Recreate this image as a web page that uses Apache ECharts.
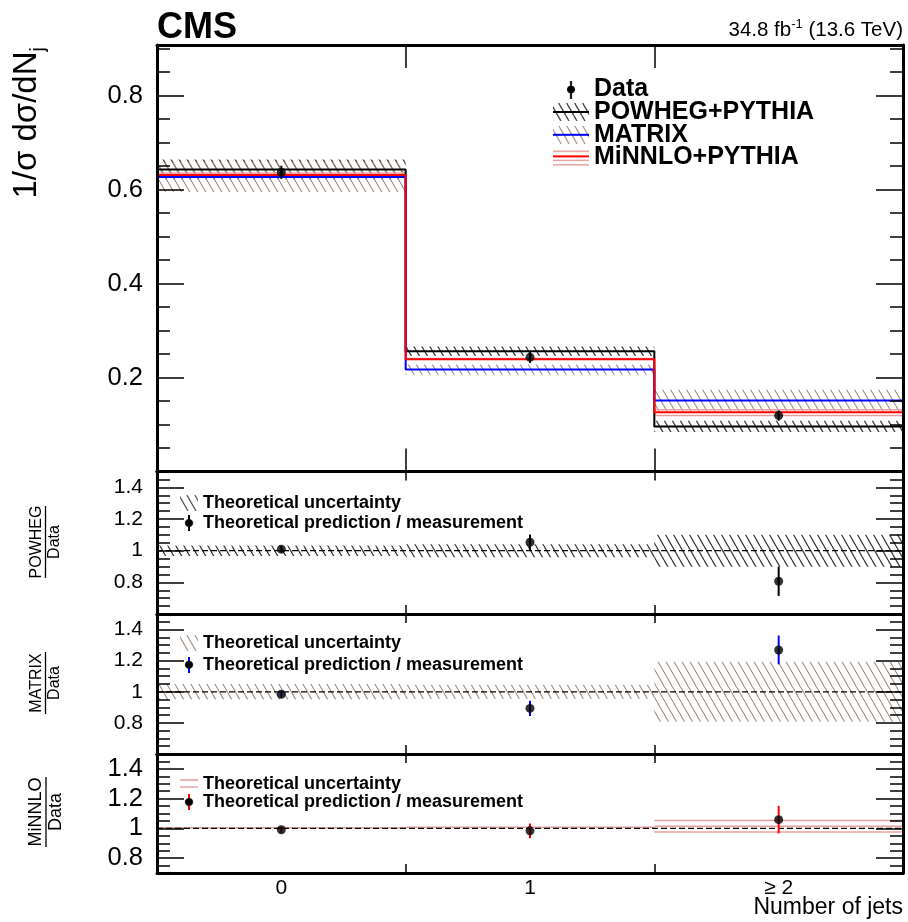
<!DOCTYPE html>
<html><head><meta charset="utf-8">
<script src="https://cdn.jsdelivr.net/npm/echarts@6/dist/echarts.min.js"></script>
<style>html,body{margin:0;padding:0;background:#fff}#c{width:908px;height:922px}</style>
</head><body><div id="c"></div>
<script>
// ---------------- data ----------------
const categories = ['0', '1', '≥ 2'];
const binEdges = [0, 1, 2, 3];
const dataVals = [0.637, 0.243, 0.119];
const dataErr = [0.014, 0.012, 0.011];
const powhegVals = [0.643, 0.256, 0.096];
const powhegUnc = [0.021, 0.010, 0.012];
const matrixVals = [0.627, 0.217, 0.151];
const matrixUnc = [0.032, 0.011, 0.023];
const minnloVals = [0.631, 0.239, 0.126];
const minnloUnc = [0.006, 0.003, 0.0070];
const yRanges = [[0, 0.908], [0.6, 1.5], [0.6, 1.5], [0.7, 1.5]];

// ---------------- helpers ----------------
const FF = "'Liberation Sans', Arial, Helvetica, sans-serif";
const DARK = '#3a3a3a', LIGHT = '#9a8b7c', PINK = '#e6a0a0';
const centers = categories.map((_, i) => (binEdges[i] + binEdges[i + 1]) / 2);

function hatchTile(color, lw) {
  const w = 8, h = 14;
  const c = document.createElement('canvas'); c.width = w; c.height = h;
  const g = c.getContext('2d'); g.strokeStyle = color; g.lineWidth = lw;
  g.beginPath();
  for (const dx of [-w, 0, w]) { g.moveTo(dx, 0); g.lineTo(dx + w, h); }
  g.stroke();
  return { type: 'pattern', image: c, repeat: 'repeat' };
}
const darkPat = hatchTile(DARK, 1.3);
const lightPat = hatchTile(LIGHT, 1.1);

function drawHatch(g, w, h, color, lw) {
  g.save(); g.beginPath(); g.rect(0, 0, w, h); g.clip();
  g.strokeStyle = color; g.lineWidth = lw; g.beginPath();
  const k = 8 / 14;
  for (let x = -h * k; x < w; x += 8) { g.moveTo(x, 0); g.lineTo(x + h * k, h); }
  g.stroke(); g.restore();
}
function makeIcon(w, h, fn) {
  const s = 3, c = document.createElement('canvas');
  c.width = w * s; c.height = h * s;
  const g = c.getContext('2d'); g.scale(s, s); fn(g, w, h);
  return 'image://' + c.toDataURL();
}
function hline(g, w, y, color, lw) { g.strokeStyle = color; g.lineWidth = lw; g.beginPath(); g.moveTo(0, y); g.lineTo(w, y); g.stroke(); }
function dotBar(color) {
  return (g, w, h) => {
    g.strokeStyle = color; g.lineWidth = 2; g.beginPath(); g.moveTo(w / 2, 0); g.lineTo(w / 2, h); g.stroke();
    g.fillStyle = '#000'; g.beginPath(); g.arc(w / 2, h / 2, 4, 0, Math.PI * 2); g.fill();
  };
}

function stepPoints(vals) {
  const p = [[binEdges[0], 0]];
  vals.forEach((v, i) => { p.push([binEdges[i], v]); p.push([binEdges[i + 1], v]); });
  p.push([binEdges[binEdges.length - 1], 0]);
  return p;
}
function bandRect(pattern) {
  return function (params, api) {
    const a = api.coord([api.value(0), api.value(3)]);
    const b = api.coord([api.value(1), api.value(2)]);
    return { type: 'rect', shape: { x: a[0], y: a[1], width: b[0] - a[0], height: b[1] - a[1] }, style: { fill: pattern, stroke: null } };
  };
}
function bandLines(color, step) {
  return function (params, api) {
    const a = api.coord([api.value(0), api.value(3)]);
    const b = api.coord([api.value(1), api.value(2)]);
    const children = [];
    for (let y = a[1] + 0.75; y <= b[1] || children.length === 0; y += step) {
      children.push({ type: 'line', shape: { x1: a[0], y1: y, x2: b[0], y2: y }, style: { stroke: color, lineWidth: 1.5 } });
    }
    return { type: 'group', children };
  };
}
function errBar(color) {
  return function (params, api) {
    const a = api.coord([api.value(0), api.value(1)]);
    const b = api.coord([api.value(0), api.value(2)]);
    return { type: 'line', shape: { x1: a[0], y1: a[1], x2: b[0], y2: b[1] }, style: { stroke: color, lineWidth: 2 } };
  };
}
function bandData(center, unc) {
  return center.map((c, i) => [binEdges[i], binEdges[i + 1], c - unc[i], c + unc[i]]);
}

// ---------------- layout ----------------
const grids = [
  { left: 157, right: 5, top: 45, height: 426.5 },
  { left: 157, right: 5, top: 471.5, height: 142.5 },
  { left: 157, right: 5, top: 614, height: 140 },
  { left: 157, right: 5, top: 754, height: 119 }
].map(g => Object.assign({ show: false, outerBoundsMode: 'none', containLabel: false }, g));
const labelSizes = [25.5, 21, 21, 25.5];

const xAxes = [], yAxes = [];
grids.forEach((g, i) => {
  const tl = i === 0 ? 23 : 9;
  ['bottom', 'top'].forEach(pos => xAxes.push({
    type: 'value', gridIndex: i, position: pos, min: 0, max: 3, interval: 1, z: 10,
    axisLine: { show: true, onZero: false, lineStyle: { color: '#000', width: 3 } },
    axisTick: { show: true, inside: true, length: tl, lineStyle: { color: '#000', width: 1.5 } },
    axisLabel: { show: false }, splitLine: { show: false }
  }));
  ['left', 'right'].forEach(pos => yAxes.push({
    type: 'value', gridIndex: i, position: pos, min: yRanges[i][0], max: yRanges[i][1], splitNumber: 5, z: 10,
    axisLine: { show: true, onZero: false, lineStyle: { color: '#000', width: 3 } },
    axisTick: { show: true, inside: true, length: 27, lineStyle: { color: '#000', width: 1.5 } },
    minorTick: { show: true, splitNumber: 4, length: 13, lineStyle: { color: '#000', width: 1.5 } },
    axisLabel: { show: pos === 'left', showMinLabel: false, showMaxLabel: false, fontSize: labelSizes[i], margin: 14, color: '#000', fontFamily: FF },
    splitLine: { show: false }, minorSplitLine: { show: false }
  }));
});
xAxes.push({
  type: 'category', gridIndex: 3, position: 'bottom', data: categories, boundaryGap: true,
  axisLine: { show: false }, axisTick: { show: false }, splitLine: { show: false },
  axisLabel: { fontSize: 21, margin: 5, color: '#000', fontFamily: FF }
});

// ---------------- series ----------------
const series = [];
// main panel
series.push({ type: 'custom', name: 'POWHEG+PYTHIA', xAxisIndex: 0, yAxisIndex: 0, z: 1, silent: true, renderItem: bandRect(darkPat), data: bandData(powhegVals, powhegUnc) });
series.push({ type: 'custom', name: 'MATRIX', xAxisIndex: 0, yAxisIndex: 0, z: 1, silent: true, renderItem: bandRect(lightPat), data: bandData(matrixVals, matrixUnc) });
series.push({ type: 'custom', name: 'MiNNLO+PYTHIA', xAxisIndex: 0, yAxisIndex: 0, z: 1, silent: true, renderItem: bandLines(PINK, 5.8), data: bandData(minnloVals, minnloUnc) });
[[powhegVals, '#000', 'POWHEG+PYTHIA'], [matrixVals, '#0000ff', 'MATRIX'], [minnloVals, '#ff0000', 'MiNNLO+PYTHIA']].forEach(([v, col, nm]) => {
  series.push({ type: 'line', name: nm, xAxisIndex: 0, yAxisIndex: 0, z: 2, data: stepPoints(v), showSymbol: false, symbol: 'none', color: col, lineStyle: { color: col, width: 2 }, silent: true });
});
series.push({ type: 'custom', name: 'Data', xAxisIndex: 0, yAxisIndex: 0, z: 3, silent: true, renderItem: errBar('#000'), data: centers.map((c, i) => [c, dataVals[i] - dataErr[i], dataVals[i] + dataErr[i]]) });
series.push({ type: 'scatter', name: 'Data', xAxisIndex: 0, yAxisIndex: 0, z: 4, symbol: 'circle', symbolSize: 9, itemStyle: { color: '#000' }, data: centers.map((c, i) => [c, dataVals[i]]), silent: true });

// ratio panels
const ratioPanels = [
  { num: 'POWHEG', pred: powhegVals, unc: powhegUnc, pattern: darkPat, hatch: DARK, errColor: '#000' },
  { num: 'MATRIX', pred: matrixVals, unc: matrixUnc, pattern: lightPat, hatch: LIGHT, errColor: '#0000ff' },
  { num: 'MiNNLO', pred: minnloVals, unc: minnloUnc, pattern: null, hatch: PINK, errColor: '#ff0000' }
];
ratioPanels.forEach((p, k) => {
  const ai = 2 * (k + 1);
  const ratio = p.pred.map((v, i) => v / dataVals[i]);
  const rerr = dataErr.map((e, i) => e / dataVals[i]);
  const runc = p.unc.map((u, i) => u / dataVals[i]);
  const ones = binEdges.slice(1).map(() => 1);
  series.push({ type: 'custom', name: 'Theoretical uncertainty', xAxisIndex: ai, yAxisIndex: ai, z: 1, silent: true,
    renderItem: p.pattern ? bandRect(p.pattern) : bandLines(PINK, 5.8), data: bandData(ones, runc) });
  series.push({ type: 'line', name: 'unity', xAxisIndex: ai, yAxisIndex: ai, z: 2, silent: true, showSymbol: false, symbol: 'none',
    data: [[binEdges[0], 1], [binEdges[binEdges.length - 1], 1]], lineStyle: { color: '#000', width: 1.2, type: [6, 3] } });
  series.push({ type: 'custom', name: 'Theoretical prediction / measurement', xAxisIndex: ai, yAxisIndex: ai, z: 3, silent: true,
    renderItem: errBar(p.errColor), data: centers.map((c, i) => [c, ratio[i] - rerr[i], ratio[i] + rerr[i]]) });
  series.push({ type: 'scatter', name: 'Theoretical prediction / measurement', xAxisIndex: ai, yAxisIndex: ai, z: 4, silent: true,
    symbol: 'circle', symbolSize: 9, itemStyle: { color: '#000' }, data: centers.map((c, i) => [c, ratio[i]]) });
});

// ---------------- legends ----------------
const legends = [{
  orient: 'vertical', left: 553, top: 77, itemWidth: 36, itemHeight: 18, itemGap: -2.4, padding: 0, selectedMode: false,
  textStyle: { fontSize: 25, fontWeight: 'bold', color: '#000', fontFamily: FF },
  data: [
    { name: 'Data', icon: makeIcon(36, 18, dotBar('#000')) },
    { name: 'POWHEG+PYTHIA', icon: makeIcon(36, 18, (g, w, h) => { drawHatch(g, w, h, DARK, 1.3); hline(g, w, h / 2, '#000', 2); }) },
    { name: 'MATRIX', icon: makeIcon(36, 18, (g, w, h) => { drawHatch(g, w, h, LIGHT, 1.1); hline(g, w, h / 2, '#0000ff', 2); }) },
    { name: 'MiNNLO+PYTHIA', icon: makeIcon(36, 18, (g, w, h) => { hline(g, w, 3, PINK, 1.5); hline(g, w, 12, PINK, 1.5); hline(g, w, 16.5, PINK, 1.5); hline(g, w, 8, '#ff0000', 2); }) }
  ]
}];
const rlTops = [494, 634, 775];
const rlGaps = [2, 3.7, 0];
ratioPanels.forEach((p, k) => {
  legends.push({
    orient: 'vertical', left: 180, top: rlTops[k], itemWidth: 18, itemHeight: 16, itemGap: rlGaps[k], padding: 0, selectedMode: false,
    textStyle: { fontSize: 18, fontWeight: 'bold', color: '#000', fontFamily: FF },
    data: [
      { name: 'Theoretical uncertainty', icon: makeIcon(18, 16, p.pattern ? (g, w, h) => drawHatch(g, w, h, p.hatch, 1.1) : (g, w, h) => { hline(g, w, 4, PINK, 1.5); hline(g, w, 11, PINK, 1.5); }) },
      { name: 'Theoretical prediction / measurement', icon: makeIcon(18, 16, dotBar(p.errColor)) }
    ]
  });
});

// ---------------- titles / graphic ----------------
function fracTitle(num, cx, cy, fs, len) {
  return { type: 'group', x: cx, y: cy, rotation: Math.PI / 2, children: [
    { type: 'text', x: 0, y: -1, style: { text: num, fontSize: fs, fontFamily: FF, align: 'center', verticalAlign: 'bottom', fill: '#000' } },
    { type: 'line', shape: { x1: -len / 2, y1: 0, x2: len / 2, y2: 0 }, style: { stroke: '#000', lineWidth: 1.3 } },
    { type: 'text', x: 0, y: 1.5, style: { text: 'Data', fontSize: fs, fontFamily: FF, align: 'center', verticalAlign: 'top', fill: '#000' } }
  ] };
}

const option = {
  animation: false,
  textStyle: { fontFamily: FF },
  title: [
    { text: 'CMS', left: 157, top: 10, padding: 0, textStyle: { fontSize: 36, fontWeight: 'bold', color: '#000', fontFamily: FF } },
    { text: '34.8 fb{sup|-1} (13.6 TeV)', right: 5, top: 18, padding: 0,
      textStyle: { fontSize: 20.5, fontWeight: 'normal', color: '#000', fontFamily: FF, lineHeight: 24,
        rich: { sup: { fontSize: 13, lineHeight: 13, verticalAlign: 'top', fontFamily: FF, color: '#000' } } } },
    { text: 'Number of jets', right: 5, top: 896, padding: 0, textStyle: { fontSize: 23, fontWeight: 'normal', color: '#000', fontFamily: FF } }
  ],
  grid: grids,
  xAxis: xAxes,
  yAxis: yAxes,
  legend: legends,
  series: series,
  graphic: [
    { type: 'text', x: 27, y: 47, rotation: Math.PI / 2, style: {
      text: '{m|1/σ dσ/dN}{s|j}', align: 'right', verticalAlign: 'middle', fill: '#000',
      rich: { m: { fontSize: 33, fontFamily: FF, lineHeight: 42, verticalAlign: 'middle', fill: '#000', color: '#000' },
              s: { fontSize: 20, fontFamily: FF, lineHeight: 20, verticalAlign: 'bottom', fill: '#000', color: '#000' } } } },
    fracTitle('POWHEG', 45.5, 542, 16, 72),
    fracTitle('MATRIX', 45.5, 683, 16, 62),
    fracTitle('MiNNLO', 46, 812, 18, 70)
  ]
};
const chart = echarts.init(document.getElementById('c'));
chart.setOption(option);
</script>
</body></html>
